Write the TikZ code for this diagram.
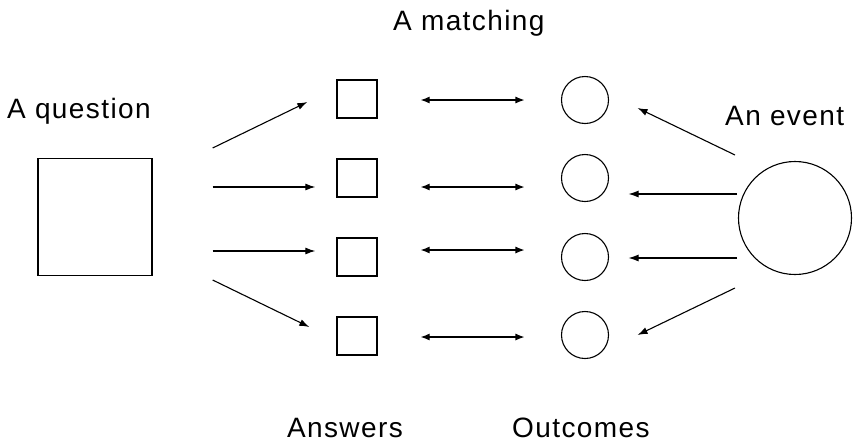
\documentclass[tikz,border=0pt]{standalone}
\usepackage{fontspec}
\setmainfont{Liberation Sans}[LetterSpace=5]
\usetikzlibrary{positioning,arrows.meta}

\begin{document}
\begin{tikzpicture}[x=1pt,y=1pt,
ans/.style={draw,rectangle,line width=1.3pt,minimum width=40pt,minimum height=38pt,inner sep=0pt},
outc/.style={draw,circle,line width=1.1pt,minimum size=47pt,inner sep=0pt},
lbl/.style={font=\fontsize{28}{32}\selectfont,inner sep=0pt,anchor=base west},
arr/.style={line width=1.1pt,-{Latex[length=10pt,width=7pt]}},
dbl/.style={line width=1.1pt,{Latex[length=9pt,width=7pt]}-{Latex[length=9pt,width=7pt]}}]

\useasboundingbox (0,0) rectangle (854,-445);

\node (quest) [draw,line width=1.3pt,minimum width=114pt,minimum height=117pt,inner sep=0pt] at (95,-217) {};
\node (event) [draw,circle,line width=1.1pt,minimum size=113pt,inner sep=0pt] at (795,-218) {};

\node (a1) [ans] at (357,-99) {};
\node (a2) [ans] at (357,-178) {};
\node (a3) [ans] at (357,-257) {};
\node (a4) [ans] at (357,-336) {};

\node (o1) [outc] at (585,-100) {};
\node (o2) [outc] at (585,-178) {};
\node (o3) [outc] at (585,-257) {};
\node (o4) [outc] at (585,-335) {};

% question -> answers
\draw [arr] ([shift={(60,69)}]quest.east) -- ([shift={(-29,-3)}]a1.west);
\draw [arr] ([shift={(60,30)}]quest.east) -- ([shift={(-21,-9)}]a2.west);
\draw [arr] ([shift={(60,-34)}]quest.east) -- ([shift={(-21,6)}]a3.west);
\draw [arr] ([shift={(60,-63)}]quest.east) -- ([shift={(-27,9)}]a4.west);

% the matching
\draw [dbl] ([shift={(43,-1)}]a1.east) -- ([shift={(-36.5,0)}]o1.west);
\draw [dbl] ([shift={(43,-9)}]a2.east) -- ([shift={(-36.5,-9)}]o2.west);
\draw [dbl] ([shift={(43,7)}]a3.east) -- ([shift={(-36.5,7)}]o3.west);
\draw [dbl] ([shift={(43,-1)}]a4.east) -- ([shift={(-36.5,-2)}]o4.west);

% event -> outcomes
\draw [arr] ([shift={(-60,63)}]event.center) -- ([shift={(28.5,-8)}]o1.east);
\draw [arr] ([shift={(-58,24)}]event.center) -- ([shift={(19.5,-16)}]o2.east);
\draw [arr] ([shift={(-58,-40)}]event.center) -- ([shift={(19.5,-1)}]o3.east);
\draw [arr] ([shift={(-60,-70)}]event.center) -- ([shift={(28.5,0)}]o4.east);

\node (match) [lbl] at (393,-30) {A matching};
\node (qlbl) [lbl] at (7,-118) {A question};
\node (elbl) [lbl] at (725,-125) {An event};
\node (albl) [lbl,anchor=base east] at (403,-437) {Answers};
\node (olbl) [lbl] at (512,-437) {Outcomes};
\end{tikzpicture}
\end{document}
